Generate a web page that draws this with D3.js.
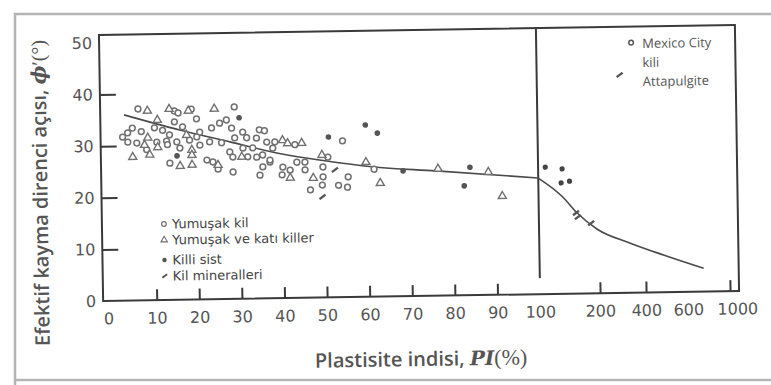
<!DOCTYPE html>
<html>
<head>
<meta charset="utf-8">
<script src="https://cdn.jsdelivr.net/npm/d3@7"></script>
<style>
  body { margin: 0; background: #fff; }
  svg { display: block; font-family: "DejaVu Sans", sans-serif; }
</style>
</head>
<body>
<div id="chart"></div>
<script>
// tick labels
const xTickLabels = [0, 10, 20, 30, 40, 50, 60, 70, 80, 90, 100, 200, 400, 600, 1000];
const xTickMarks = [10, 20, 30, 40, 50, 60, 70, 80, 90, 200, 400, 1000];
const yTickLabels = [0, 10, 20, 30, 40, 50];
const yTickMarks = [10, 20, 30, 40];

// [PI (%), phi' (deg)]
const softClay = [
  [6.3, 37.1], [14.8, 36.6], [15.7, 36.2], [18.8, 36.9], [20.0, 35.0], [28.9, 37.2],
  [27.0, 34.7], [25.4, 34.1], [23.5, 33.2], [20.7, 32.4], [16.7, 33.5], [14.8, 34.5],
  [4.9, 33.4], [3.8, 32.5], [7.0, 32.7], [10.1, 33.4], [13.6, 32.0], [12.0, 32.9],
  [18.3, 30.9], [20.0, 31.5], [15.3, 30.6], [12.9, 30.8], [2.6, 31.7], [3.8, 30.7],
  [5.9, 30.5], [10.6, 30.6], [8.2, 29.2], [13.1, 30.1], [16.0, 29.4], [13.6, 26.5],
  [22.3, 27.0], [23.7, 26.6], [24.9, 25.2], [20.7, 29.9], [23.0, 30.5], [25.8, 30.3],
  [28.2, 33.1], [30.8, 32.3], [28.9, 31.2], [31.7, 31.2], [34.7, 32.7], [35.9, 32.5],
  [34.0, 31.1], [36.4, 30.3], [27.7, 28.5], [28.4, 27.5], [31.9, 27.5], [34.0, 27.4],
  [35.4, 27.8], [28.4, 24.6], [30.8, 29.2], [33.1, 29.2], [35.4, 25.5], [34.7, 23.9],
  [37.1, 26.4], [37.8, 29.1], [38.3, 30.3], [43.0, 29.7], [37.1, 26.8], [40.1, 25.4],
  [41.8, 24.8], [39.9, 23.9], [43.4, 26.3], [45.3, 26.3], [45.3, 24.8], [46.5, 20.9],
  [49.5, 23.4], [49.3, 21.8], [50.7, 27.2], [49.5, 25.3], [54.2, 30.3], [53.1, 21.7],
  [55.2, 21.3], [55.4, 23.3], [61.5, 24.7]
];
const softHardClay = [
  [8.5, 36.7], [13.6, 37.0], [18.1, 36.6], [24.2, 36.9], [10.8, 34.9], [17.6, 31.9],
  [8.5, 31.5], [7.7, 30.1], [10.8, 29.6], [4.9, 27.8], [8.9, 28.2], [18.8, 29.0],
  [18.8, 28.0], [16.0, 25.9], [18.8, 26.1], [24.9, 26.0], [30.5, 27.5], [40.1, 30.6],
  [41.3, 30.0], [44.6, 30.0], [41.8, 23.3], [47.2, 23.2], [49.3, 27.6], [59.6, 26.1],
  [62.9, 22.0], [76.5, 24.6], [88.3, 23.8], [91.5, 19.1]
];
const clayShale = [
  [30.0, 35.1], [15.3, 27.9], [50.9, 31.1], [59.6, 33.3], [62.4, 31.7], [68.3, 24.3],
  [84.0, 24.8], [82.6, 21.2]
];
const clayMinerals = [[49.3, 19.5], [52.3, 24.7]];
const mexicoCity = [[112, 24.6], [140, 24.2], [138, 21.5], [152, 21.8]];
const attapulgite = [[162, 15.6], [165, 14.8], [187, 13.6]];

// trend curves
const trendPI = [3, 16, 28, 39, 50, 61, 76, 100];
const trendPhi = [36.0, 32.9, 30.4, 28.1, 26.5, 25.2, 24.2, 22.5];
const tailPI = [100, 140, 164, 197, 335, 486, 752];
const tailPhi = [22.5, 18.8, 15.6, 12.4, 9.6, 7.2, 4.5];

const width = 771, height = 385;
const frame = { left: 101, right: 737, top: 30, bottom: 296 };
const markColor = '#707070';
const inkColor = '#3a3a3a';
const textColor = '#555';

const x = d3.scaleLinear()
  .domain([0, 100, 200, 400, 600, 1000])
  .range([112, 538, 598, 644, 686, 728]);
const y = d3.scaleLinear().domain([0, 50]).range([frame.bottom, 38]);

const svg = d3.select('#chart')
  .append('svg')
  .attr('width', width)
  .attr('height', height);

// scan border
svg.append('path')
  .attr('d', `M15,385 V14 H771 M15,380 H771`)
  .attr('fill', 'none')
  .attr('stroke', '#b4b4b4')
  .attr('stroke-width', 2.5);

// the scanned page sits slightly tilted
const chart = svg.append('g').attr('transform', 'rotate(-0.9, 420, 163)');

chart.append('rect')
  .attr('x', frame.left)
  .attr('y', frame.top)
  .attr('width', frame.right - frame.left)
  .attr('height', frame.bottom - frame.top)
  .attr('fill', 'none')
  .attr('stroke', inkColor)
  .attr('stroke-width', 2);

// y axis labels + inward ticks
const yLab = chart.append('g')
  .attr('transform', `translate(${frame.left},0)`)
  .call(d3.axisLeft(y).tickValues(yTickLabels).tickSize(0).tickPadding(7));
yLab.select('.domain').remove();
yLab.selectAll('text').attr('font-size', 16).attr('fill', textColor).attr('font-family', '"DejaVu Sans", sans-serif');

const yMarks = chart.append('g')
  .attr('transform', `translate(${frame.left},0)`)
  .call(d3.axisLeft(y).tickValues(yTickMarks).tickSize(-16).tickFormat(''));
yMarks.select('.domain').remove();
yMarks.selectAll('line').attr('stroke', inkColor).attr('stroke-width', 2);

// x axis labels + inward ticks
const xLab = chart.append('g')
  .attr('transform', `translate(0,${frame.bottom})`)
  .call(d3.axisBottom(x).tickValues(xTickLabels).tickSize(0).tickPadding(12).tickFormat(d3.format('d')));
xLab.select('.domain').remove();
xLab.selectAll('text')
  .attr('font-size', 16).attr('fill', textColor).attr('font-family', '"DejaVu Sans", sans-serif')
  .attr('dx', d => d === 0 ? -6 : d === 1000 ? 7 : 0);

const xMarks = chart.append('g')
  .attr('transform', `translate(0,${frame.bottom})`)
  .call(d3.axisBottom(x).tickValues(xTickMarks).tickSize(-11).tickFormat(''));
xMarks.select('.domain').remove();
xMarks.selectAll('line').attr('stroke', inkColor).attr('stroke-width', 2);

// divider at PI = 100
chart.append('line')
  .attr('x1', x(100)).attr('x2', x(100))
  .attr('y1', frame.top).attr('y2', y(3.1))
  .attr('stroke', inkColor)
  .attr('stroke-width', 2);

// trend curves
const line = d3.line().x(d => x(d[0])).y(d => y(d[1])).curve(d3.curveMonotoneX);
chart.append('path')
  .attr('d', line(trendPI.map((p, i) => [p, trendPhi[i]])))
  .attr('fill', 'none').attr('stroke', '#4a4a4a').attr('stroke-width', 1.6);
chart.append('path')
  .attr('d', line(tailPI.map((p, i) => [p, tailPhi[i]])))
  .attr('fill', 'none').attr('stroke', '#4a4a4a').attr('stroke-width', 1.6);

// marker drawers
const tri = d3.symbol().type(d3.symbolTriangle).size(28)();
const drawers = {
  circle: (g) => g.append('circle').attr('r', 2.9).attr('fill', '#fff').attr('stroke', markColor).attr('stroke-width', 1.5),
  triangle: (g) => g.append('path').attr('d', tri).attr('fill', '#fff').attr('stroke', markColor).attr('stroke-width', 1.4),
  filled: (g) => g.append('circle').attr('r', 2.8).attr('fill', '#555'),
  slash: (g) => g.append('path').attr('d', 'M-3,2.2 L3,-2.2').attr('stroke', '#555').attr('stroke-width', 2.4),
  dot: (g) => g.append('circle').attr('r', 2.6).attr('fill', '#444')
};

function plot(data, kind) {
  chart.append('g')
    .selectAll('g')
    .data(data)
    .enter()
    .append('g')
    .attr('transform', d => `translate(${x(d[0])},${y(d[1])})`)
    .each(function () { drawers[kind](d3.select(this)); });
}
plot(softClay, 'circle');
plot(softHardClay, 'triangle');
plot(clayShale, 'filled');
plot(clayMinerals, 'slash');
plot(mexicoCity, 'dot');
plot(attapulgite, 'slash');

// lower-left legend
const legendRows = [
  { label: 'Yumuşak kil', kind: 'circle', y: 220 },
  { label: 'Yumuşak ve katı killer', kind: 'triangle', y: 236 },
  { label: 'Killi sist', kind: 'filled', y: 256 },
  { label: 'Kil mineralleri', kind: 'slash', y: 272 }
];
legendRows.forEach(r => {
  const g = chart.append('g').attr('transform', `translate(163,${r.y})`);
  drawers[r.kind](g).attr('transform', 'scale(0.8)');
  g.append('text')
    .attr('x', 8).attr('dy', '0.35em')
    .attr('font-size', 13)
    .attr('fill', '#444')
    .text(r.label);
});

// upper-right legend
const tr = chart.append('g');
drawers.circle(tr.append('g').attr('transform', 'translate(633,46)')).attr('r', 2.3).attr('stroke', '#555');
drawers.slash(tr.append('g').attr('transform', 'translate(621,78)'));
[['Mexico City', 47], ['kili', 66], ['Attapulgite', 85]].forEach(([t, ty]) => {
  tr.append('text')
    .attr('x', 644).attr('y', ty).attr('dy', '0.35em')
    .attr('font-family', '"Open Sans", sans-serif')
    .attr('font-size', 13)
    .attr('fill', textColor)
    .text(t);
});

// axis titles
const xTitle = chart.append('text')
  .attr('x', 418).attr('y', 359).attr('dy', '0.35em')
  .attr('text-anchor', 'middle')
  .attr('font-family', '"Open Sans", sans-serif')
  .attr('font-weight', 600)
  .attr('font-size', 20)
  .attr('fill', textColor);
xTitle.append('tspan').text('Plastisite indisi, ');
xTitle.append('tspan').attr('font-family', '"DejaVu Serif", serif').attr('font-style', 'italic').attr('font-weight', 'bold').text('PI');
xTitle.append('tspan').attr('font-family', '"Liberation Serif", serif').attr('font-weight', 'normal').attr('font-size', 22).text('(%)');

const yTitle = chart.append('text')
  .attr('transform', 'translate(40,187) rotate(-90)')
  .attr('dy', '0.35em')
  .attr('text-anchor', 'middle')
  .attr('font-family', '"Open Sans", sans-serif')
  .attr('font-weight', 600)
  .attr('font-size', 20)
  .attr('fill', textColor);
yTitle.append('tspan').text('Efektif kayma direnci açısı, ');
yTitle.append('tspan').attr('font-family', '"DejaVu Serif", serif').attr('font-style', 'italic').attr('font-weight', 'bold').text('ϕ');
yTitle.append('tspan').attr('font-family', '"Liberation Serif", serif').attr('font-weight', 'normal').text('′(°)');
</script>
</body>
</html>
